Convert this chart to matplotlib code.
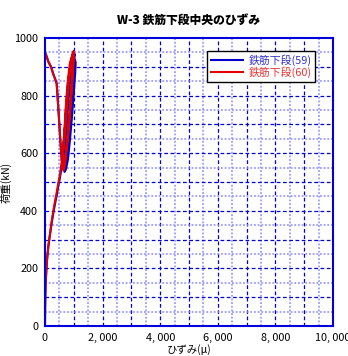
import numpy as np
import matplotlib.pyplot as plt
from matplotlib.ticker import MultipleLocator, FuncFormatter

plt.rcParams['font.family'] = ['Noto Sans CJK JP', 'DejaVu Sans']
plt.rcParams['font.size'] = 7.5

#%% Data (strain in micro, load in kN)
strain_59 = [0, 3, 10, 25, 45, 75, 115, 155, 200, 245, 295, 350, 410, 460, 510, 560,
             610, 670, 730, 790, 850, 920, 990, 1040, 1065,
             1050, 1000, 940, 870, 800, 730, 680,
             640, 700, 760, 830, 900, 1000,
             1010, 960, 900, 830, 760, 700,
             660, 730, 800, 870, 950, 1030,
             1000, 940, 870, 800, 730, 640,
             580, 520, 470, 405, 350, 290, 208, 115, 60, 25, 0]
load_59 = [0, 60, 110, 150, 190, 235, 275, 305, 335, 365, 395, 425, 455, 485, 510, 540,
           575, 630, 690, 770, 850, 900, 920, 924, 915,
           880, 810, 730, 650, 580, 545, 535,
           580, 660, 750, 840, 900, 940,
           900, 820, 740, 660, 590, 550,
           600, 690, 780, 860, 915, 945,
           880, 800, 710, 630, 570, 560,
           576, 665, 745, 842, 858, 874, 900, 918, 935, 944, 950]

strain_60 = [0, 5, 15, 30, 50, 80, 120, 160, 200, 240, 290, 340, 400, 450, 500, 540,
             580, 640, 700, 760, 820, 890, 985,
             1000, 950, 900, 840, 760, 690, 640,
             600, 660, 720, 780, 860, 960,
             970, 920, 860, 790, 720, 660,
             620, 690, 750, 820, 900, 990,
             960, 900, 830, 760, 690, 630,
             578, 520, 470, 405, 350, 290, 208, 115, 60, 25, 0]
load_60 = [0, 60, 120, 160, 200, 240, 280, 310, 340, 370, 400, 430, 460, 490, 515, 540,
           570, 620, 680, 760, 840, 900, 950,
           920, 850, 780, 700, 620, 560, 540,
           580, 660, 760, 840, 910, 945,
           900, 820, 740, 660, 590, 550,
           600, 690, 780, 860, 920, 955,
           890, 800, 710, 630, 570, 560,
           576, 665, 745, 842, 858, 874, 900, 918, 935, 944, 950]

#%% Plot
fig = plt.figure(figsize=(3.48, 3.56), dpi=100)
ax = fig.add_axes([0.1293, 0.0843, 0.8276, 0.809])

ax.plot(strain_59, load_59, c='#0000cc', lw=1.5, label='鉄筋下段(59)')
ax.plot(strain_60, load_60, c='#e00000', lw=1.5, label='鉄筋下段(60)')

ax.set_xlim(0, 10000)
ax.set_ylim(0, 1000)
ax.xaxis.set_major_locator(MultipleLocator(2000))
ax.yaxis.set_major_locator(MultipleLocator(200))
ax.xaxis.set_major_formatter(FuncFormatter(lambda v, p: '{:,}'.format(int(v)).replace(',', ', ')))

# grid: 1000 / 100 dashed dark, 500 / 50 dotted light
for v in np.arange(500, 10000, 500):
    if v % 1000 == 0:
        ax.axvline(v, c='#0000dd', lw=0.9, ls=(0, (3, 2)), zorder=0)
    else:
        ax.axvline(v, c='#8c8cff', lw=1.1, ls=(0, (1.2, 1.2)), zorder=0)
for v in np.arange(50, 1000, 50):
    if v % 100 == 0:
        ax.axhline(v, c='#0000dd', lw=0.9, ls=(0, (3, 2)), zorder=0)
    else:
        ax.axhline(v, c='#8c8cff', lw=1.1, ls=(0, (1.2, 1.2)), zorder=0)

for s in ax.spines.values():
    s.set_color('#0000dd')
    s.set_linewidth(1.5)
ax.tick_params(which='both', length=0, pad=5, labelsize=7.8)

ax.set_title('W-3 鉄筋下段中央のひずみ', fontsize=8.5, fontweight='heavy', pad=10)
ax.set_xlabel('ひずみ(μ)', fontsize=7.5, labelpad=1)
ax.set_ylabel('荷重(kN)', fontsize=7.5, labelpad=2)

leg = ax.legend(loc='upper right', bbox_to_anchor=(0.958, 0.975), frameon=True,
                fancybox=False, edgecolor='black', framealpha=1,
                handlelength=3.0, handletextpad=0.5, borderpad=0.35,
                labelspacing=0.05, fontsize=7.8)
leg.get_frame().set_linewidth(1.0)
for t, c in zip(leg.get_texts(), ['#3333cc', '#ee3333']):
    t.set_color(c)

plt.savefig('out.png', dpi=100)
